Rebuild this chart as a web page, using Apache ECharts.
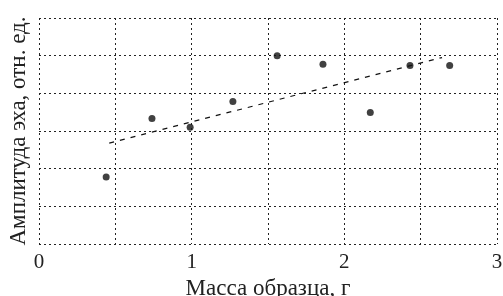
<!DOCTYPE html>
<html>
<head>
<meta charset="utf-8">
<script src="https://cdn.jsdelivr.net/npm/echarts@6/dist/echarts.min.js"></script>
<style>html,body{margin:0;padding:0;background:#fff}#c{width:503px;height:296px}</style>
</head>
<body>
<div id="c"></div>
<script>
// Data
const massX = [0.44, 0.74, 0.99, 1.27, 1.56, 1.86, 2.17, 2.43, 2.69];
const amplitudeY = [1.78, 3.33, 3.10, 3.78, 5.00, 4.77, 3.49, 4.74, 4.74];
const trendX = [0.46, 2.64];
const trendY = [2.68, 4.95];
const xTickLabels = ['0', '1', '2', '3'];
const xTitle = 'Масса образца, г';
const yTitle = 'Амплитуда эха, отн. ед.';

const points = massX.map((x, i) => [x, amplitudeY[i]]);
const trend = trendX.map((x, i) => [x, trendY[i]]);

const font = 'Liberation Serif';
const gridLine = { show: true, lineStyle: { color: '#222', width: 1, type: [2, 3] } };

const chart = echarts.init(document.getElementById('c'), null, { renderer: 'canvas' });
chart.setOption({
  animation: false,
  backgroundColor: '#fff',
  grid: { left: 39, right: 6, top: 18, bottom: 52, containLabel: false, outerBoundsMode: 'none' },
  xAxis: {
    type: 'value', min: 0, max: 3, interval: 0.5,
    axisLine: { show: false }, axisTick: { show: false },
    splitLine: gridLine,
    axisLabel: {
      margin: 8, fontFamily: font, fontSize: 21, color: '#222',
      formatter: v => (Math.abs(v - Math.round(v)) < 1e-9 ? xTickLabels[Math.round(v)] : '')
    },
    name: xTitle, nameLocation: 'middle', nameGap: 27,
    nameTextStyle: { fontFamily: font, fontSize: 23, color: '#222' }
  },
  yAxis: {
    type: 'value', min: 0, max: 6, interval: 1,
    axisLine: { show: false }, axisTick: { show: false },
    axisLabel: { show: false },
    splitLine: gridLine,
    name: yTitle, nameLocation: 'middle', nameGap: 9, nameRotate: 90,
    nameTextStyle: { fontFamily: font, fontSize: 23, color: '#222' }
  },
  series: [
    {
      type: 'scatter', data: points, symbol: 'circle', symbolSize: 7,
      itemStyle: { color: '#111' }, z: 3
    },
    {
      type: 'line', data: trend, symbol: 'none',
      lineStyle: { color: '#111', width: 1.2, type: [5, 6] }, z: 2
    }
  ]
});
</script>
</body>
</html>
